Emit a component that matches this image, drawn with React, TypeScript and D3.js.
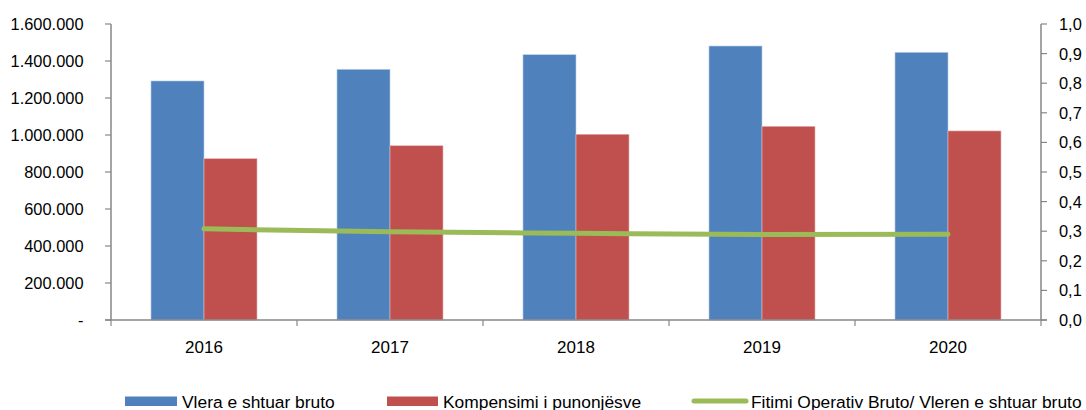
import React from "react";
import * as d3 from "d3";

const years = ["2016", "2017", "2018", "2019", "2020"];
const vleraBruto = [1292000, 1355000, 1434000, 1481000, 1447000];
const kompensimi = [872000, 942000, 1004000, 1047000, 1022000];
const fitimiRatio = [0.308, 0.298, 0.293, 0.289, 0.290];
const leftTicks = [0, 200000, 400000, 600000, 800000, 1000000, 1200000, 1400000, 1600000];
const rightTicks = [0, 0.1, 0.2, 0.3, 0.4, 0.5, 0.6, 0.7, 0.8, 0.9, 1.0];
const seriesNames = ["Vlera e shtuar bruto", "Kompensimi i punonjësve", "Fitimi Operativ Bruto/ Vleren e shtuar bruto"];

const BLUE = "#4F81BD";
const RED = "#C0504D";
const GREEN = "#9BBB59";
const AXIS = "#878787";
const FONT = "'Liberation Sans', Arial, sans-serif";

const locale = d3.formatLocale({ decimal: ",", thousands: ".", grouping: [3], currency: ["", ""] });
const fmtLeft = (v: number) => (v === 0 ? "-" : locale.format(",.0f")(v));
const fmtRight = locale.format(".1f");

export default function App() {
  const W = 1086, H = 410;
  const x0 = 111, x1 = 1041, yTop = 24, yBot = 320;
  const x = d3.scaleBand<string>().domain(years).range([x0, x1]).padding(0);
  const bw = x.bandwidth();
  const groupW = bw * 0.57;
  const xs = d3.scaleBand<string>().domain(["a", "b"]).range([(bw - groupW) / 2, (bw + groupW) / 2]).padding(0);
  const yL = d3.scaleLinear().domain([0, 1600000]).range([yBot, yTop]);
  const yR = d3.scaleLinear().domain([0, 1]).range([yBot, yTop]);

  const line = d3
    .line<number>()
    .x((_, i) => (x(years[i]) as number) + bw / 2)
    .y((d) => yR(d))
    .curve(d3.curveMonotoneX);

  const boundaries = [...years.map((y) => x(y) as number), x1];

  return (
    <svg width={W} height={H} style={{ position: "absolute", left: 0, top: 0, background: "#fff" }} fontFamily={FONT}>
      {/* bars */}
      {years.map((yr, i) => (
        <g key={yr}>
          <rect
            x={(x(yr) as number) + (xs("a") as number)}
            y={yL(vleraBruto[i])}
            width={xs.bandwidth()}
            height={yBot - yL(vleraBruto[i])}
            fill={BLUE}
            stroke="#b9cde5"
            strokeWidth={0.6}
          />
          <rect
            x={(x(yr) as number) + (xs("b") as number)}
            y={yL(kompensimi[i])}
            width={xs.bandwidth()}
            height={yBot - yL(kompensimi[i])}
            fill={RED}
            stroke="#e6b9b8"
            strokeWidth={0.6}
          />
        </g>
      ))}
      {/* line */}
      <path d={line(fitimiRatio) || ""} fill="none" stroke={GREEN} strokeWidth={5} strokeLinecap="round" />

      {/* left axis */}
      <line x1={x0} x2={x0} y1={yTop} y2={yBot} stroke={AXIS} strokeWidth={1.5} />
      {leftTicks.map((t) => (
        <g key={"l" + t}>
          <line x1={x0 - 6} x2={x0} y1={yL(t)} y2={yL(t)} stroke={AXIS} strokeWidth={1.2} />
          <text x={83.5} y={yL(t)} dy="0.36em" textAnchor="end" fontSize={16.4} fill="#000">
            {fmtLeft(t)}
          </text>
        </g>
      ))}
      {/* right axis */}
      <line x1={x1} x2={x1} y1={yTop} y2={yBot} stroke={AXIS} strokeWidth={1.5} />
      {rightTicks.map((t) => (
        <g key={"r" + t}>
          <line x1={x1} x2={x1 + 6} y1={yR(t)} y2={yR(t)} stroke={AXIS} strokeWidth={1.2} />
          <text x={1059} y={yR(t)} dy="0.36em" textAnchor="start" fontSize={16.4} fill="#000">
            {fmtRight(t)}
          </text>
        </g>
      ))}
      {/* bottom axis */}
      <line x1={x0 - 6} x2={x1 + 6} y1={yBot} y2={yBot} stroke={AXIS} strokeWidth={1.5} />
      {boundaries.map((b, i) => (
        <line key={"b" + i} x1={b} x2={b} y1={yBot} y2={yBot + 6} stroke={AXIS} strokeWidth={1.2} />
      ))}
      {years.map((yr) => (
        <text key={"t" + yr} x={(x(yr) as number) + bw / 2} y={353} textAnchor="middle" fontSize={17} fill="#000">
          {yr}
        </text>
      ))}

      {/* legend */}
      <rect x={125} y={396.5} width={52} height={9.5} fill={BLUE} />
      <text x={182} y={408} fontSize={17.4} fill="#000">{seriesNames[0]}</text>
      <rect x={387} y={396.5} width={51} height={9.5} fill={RED} />
      <text x={443} y={408} fontSize={17.4} fill="#000">{seriesNames[1]}</text>
      <line x1={694} x2={746} y1={401} y2={401} stroke={GREEN} strokeWidth={5} strokeLinecap="round" />
      <text x={751} y={408} fontSize={17.4} fill="#000">{seriesNames[2]}</text>
    </svg>
  );
}
